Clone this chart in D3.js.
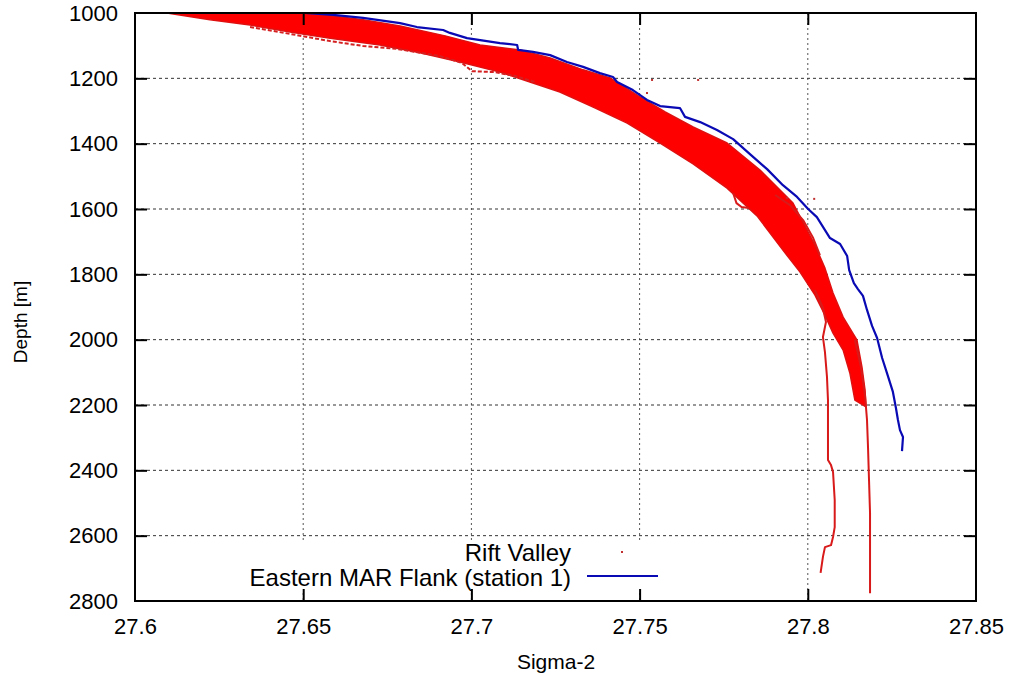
<!DOCTYPE html>
<html>
<head>
<meta charset="utf-8">
<script src="https://cdn.jsdelivr.net/npm/d3@7"></script>
<style>
  body { margin: 0; background: #fff; }
  svg text { font-family: "Liberation Sans", Arial, Helvetica, sans-serif; fill: #000; }
</style>
</head>
<body>
<svg id="chart" width="1011" height="676"></svg>
<script>
// Axis ticks
const xTicks = [27.6, 27.65, 27.7, 27.75, 27.8, 27.85];
const xTickLabels = ["27.6", "27.65", "27.7", "27.75", "27.8", "27.85"];
const yTicks = [1000, 1200, 1400, 1600, 1800, 2000, 2200, 2400, 2600, 2800];
const yTickLabels = ["1000", "1200", "1400", "1600", "1800", "2000", "2200", "2400", "2600", "2800"];

// Eastern MAR Flank (station 1): [sigma-2, depth]
const flankProfile = [
  [27.6505, 1000], [27.6589, 1006], [27.6678, 1015], [27.6788, 1031], [27.6838, 1043],
  [27.6916, 1052], [27.6936, 1061], [27.6987, 1077], [27.7085, 1092], [27.7136, 1098],
  [27.7139, 1113], [27.7183, 1119], [27.7234, 1129], [27.7284, 1150], [27.7332, 1165],
  [27.7382, 1184], [27.7421, 1196], [27.7433, 1211], [27.7480, 1236], [27.7522, 1266],
  [27.7561, 1285], [27.7620, 1291], [27.7635, 1318], [27.7680, 1334], [27.7730, 1358],
  [27.7778, 1386], [27.7828, 1432], [27.7879, 1478], [27.7926, 1527], [27.7968, 1563],
  [27.8001, 1600], [27.8027, 1625], [27.8066, 1689], [27.8096, 1707], [27.8117, 1744],
  [27.8123, 1787], [27.8137, 1827], [27.8149, 1845], [27.8164, 1866], [27.8176, 1909],
  [27.8191, 1958], [27.8206, 1995], [27.8221, 2056], [27.8238, 2111], [27.8253, 2160],
  [27.8262, 2209], [27.8268, 2246], [27.8274, 2277], [27.8283, 2298], [27.8280, 2341]
];

// Rift Valley casts: envelope of the dense bundle of profiles
const riftUpper = [
  [27.6095, 1000], [27.6505, 1000], [27.6589, 1009], [27.6678, 1021], [27.6788, 1040],
  [27.6922, 1070], [27.7026, 1098], [27.7145, 1113], [27.7234, 1138], [27.7332, 1174],
  [27.7412, 1199], [27.7501, 1257], [27.7576, 1303], [27.7659, 1349], [27.7760, 1398],
  [27.7858, 1481], [27.7956, 1582], [27.7990, 1649], [27.8021, 1710], [27.8051, 1781],
  [27.8075, 1857], [27.8105, 1931], [27.8146, 2001], [27.8161, 2084], [27.8170, 2154],
  [27.8173, 2206]
];
const riftLower = [
  [27.8140, 2185], [27.8125, 2102], [27.8105, 2032], [27.8075, 1980], [27.8051, 1925],
  [27.8021, 1863], [27.7977, 1793], [27.7926, 1726], [27.7849, 1621], [27.7760, 1536],
  [27.7659, 1462], [27.7561, 1398], [27.7463, 1337], [27.7362, 1288], [27.7263, 1242],
  [27.7174, 1211], [27.7085, 1181], [27.6966, 1150], [27.6847, 1122], [27.6728, 1098],
  [27.6580, 1077], [27.6461, 1058], [27.6342, 1037], [27.6223, 1021], [27.6095, 1000]
];

// Individual Rift Valley casts that leave the bundle
const riftDeepCast = [
  [27.8140, 2001], [27.8158, 2084], [27.8170, 2169], [27.8176, 2246], [27.8179, 2329],
  [27.8182, 2430], [27.8185, 2531], [27.8185, 2675], [27.8185, 2776]
];
const riftSecondCast = [
  [27.8021, 1848], [27.8045, 1903], [27.8054, 1946], [27.8045, 1992], [27.8051, 2038],
  [27.8057, 2114], [27.8060, 2185], [27.8060, 2277], [27.8060, 2368], [27.8069, 2384],
  [27.8075, 2405], [27.8080, 2491], [27.8080, 2574], [27.8075, 2604], [27.8069, 2629],
  [27.8051, 2635], [27.8045, 2665], [27.8038, 2714]
];
const riftShallowCast = [
  [27.6342, 1043], [27.6461, 1064], [27.6580, 1086], [27.6678, 1101], [27.6779, 1110],
  [27.6907, 1132], [27.6972, 1153], [27.7002, 1178], [27.7070, 1181], [27.7130, 1193],
  [27.7189, 1211]
];
const riftEdgeCast = [
  [27.7903, 1557], [27.7947, 1588], [27.7986, 1634], [27.8016, 1689], [27.8036, 1741]
];
const riftNotchCast = [
  [27.7778, 1551], [27.7788, 1582], [27.7803, 1594], [27.7825, 1597]
];
const riftStrayPoints = [
  [27.7537, 1205], [27.7674, 1205], [27.7522, 1245], [27.7938, 1566], [27.8019, 1569]
];

const svg = d3.select("#chart");
const plotLeft = 135, plotRight = 976, plotTop = 13, plotBottom = 601;

const x = d3.scaleLinear().domain([27.6, 27.85]).range([plotLeft, plotRight]);
const y = d3.scaleLinear().domain([1000, 2800]).range([plotTop, plotBottom]);

svg.append("defs").append("clipPath").attr("id", "plot-clip")
  .append("rect").attr("x", plotLeft).attr("y", plotTop)
  .attr("width", plotRight - plotLeft).attr("height", plotBottom - plotTop);

// Grid
const grid = svg.append("g");
grid.selectAll("line.gx").data(xTicks.slice(1, -1)).join("line")
  .attr("x1", d => x(d)).attr("x2", d => x(d))
  .attr("y1", plotTop).attr("y2", plotBottom)
  .attr("stroke", "#555").attr("stroke-width", 1).attr("stroke-dasharray", "2,3");
grid.selectAll("line.gy").data(yTicks.slice(1, -1)).join("line")
  .attr("x1", plotLeft).attr("x2", plotRight)
  .attr("y1", d => y(d)).attr("y2", d => y(d))
  .attr("stroke", "#333").attr("stroke-width", 1).attr("stroke-dasharray", "3,3");

// Legend background (opaque key box)
svg.append("rect").attr("x", 238).attr("y", 541).attr("width", 430).attr("height", 50)
  .attr("fill", "#fff");

const plot = svg.append("g").attr("clip-path", "url(#plot-clip)");
const line = d3.line().x(d => x(d[0])).y(d => y(d[1]));

// Rift Valley bundle
plot.append("path")
  .attr("d", line(riftUpper.concat(riftLower)) + "Z")
  .attr("fill", "#ff0000").attr("stroke", "#e01010").attr("stroke-width", 1.5)
  .attr("stroke-linejoin", "round");

plot.append("path").attr("d", line(riftShallowCast))
  .attr("fill", "none").attr("stroke", "#d42020").attr("stroke-width", 2)
  .attr("stroke-dasharray", "4,2");
[riftDeepCast, riftSecondCast, riftEdgeCast, riftNotchCast].forEach(c => {
  plot.append("path").attr("d", line(c))
    .attr("fill", "none").attr("stroke", "#d81a1a").attr("stroke-width", 2)
    .attr("stroke-linejoin", "round");
});
plot.selectAll("rect.stray").data(riftStrayPoints).join("rect")
  .attr("x", d => x(d[0]) - 1).attr("y", d => y(d[1]) - 1)
  .attr("width", 2).attr("height", 2).attr("fill", "#c03030");

// Eastern MAR Flank
plot.append("path").attr("d", line(flankProfile))
  .attr("fill", "none").attr("stroke", "#0a0ab4").attr("stroke-width", 2.2)
  .attr("stroke-linejoin", "round");

// Axes (ticks point inward on all four sides)
const fs = "22px";
const axB = svg.append("g").attr("transform", `translate(0,${plotBottom})`)
  .call(d3.axisBottom(x).tickValues(xTicks).tickFormat((d, i) => xTickLabels[i])
    .tickSizeInner(-12).tickSizeOuter(0).tickPadding(17));
const axL = svg.append("g").attr("transform", `translate(${plotLeft},0)`)
  .call(d3.axisLeft(y).tickValues(yTicks).tickFormat((d, i) => yTickLabels[i])
    .tickSizeInner(-12).tickSizeOuter(0).tickPadding(17));
const axT = svg.append("g").attr("transform", `translate(0,${plotTop})`)
  .call(d3.axisTop(x).tickValues(xTicks).tickFormat("").tickSizeInner(-12).tickSizeOuter(0));
const axR = svg.append("g").attr("transform", `translate(${plotRight},0)`)
  .call(d3.axisRight(y).tickValues(yTicks).tickFormat("").tickSizeInner(-12).tickSizeOuter(0));
[axB, axL, axT, axR].forEach(a => {
  a.select(".domain").remove();
  a.selectAll(".tick line").attr("stroke", "#000").attr("stroke-width", 2);
  a.selectAll("text").attr("font-size", fs).attr("font-family", null).attr("fill", "#000");
});
[axB, axT].forEach(a => a.selectAll(".tick")
  .filter((d, i) => i === 0 || i === xTicks.length - 1).select("line").remove());
[axL, axR].forEach(a => a.selectAll(".tick")
  .filter((d, i) => i === 0 || i === yTicks.length - 1).select("line").remove());

// Frame
svg.append("rect").attr("x", plotLeft).attr("y", plotTop)
  .attr("width", plotRight - plotLeft).attr("height", plotBottom - plotTop)
  .attr("fill", "none").attr("stroke", "#000").attr("stroke-width", 2);

// Axis titles
svg.append("text").attr("x", 556).attr("y", 669).attr("text-anchor", "middle")
  .attr("font-size", "21px").text("Sigma-2");
svg.append("text").attr("transform", "translate(27,322) rotate(-90)")
  .attr("text-anchor", "middle").attr("font-size", "19px").text("Depth [m]");

// Key
const key = svg.append("g");
key.append("text").attr("x", 571).attr("y", 561).attr("text-anchor", "end")
  .attr("font-size", "24px").text("Rift Valley");
key.append("rect").attr("x", 621).attr("y", 551).attr("width", 2).attr("height", 2)
  .attr("fill", "#c03030");
key.append("text").attr("x", 571).attr("y", 586).attr("text-anchor", "end")
  .attr("font-size", "24px").text("Eastern MAR Flank (station 1)");
key.append("line").attr("x1", 587).attr("x2", 658).attr("y1", 576).attr("y2", 576)
  .attr("stroke", "#0a0ab4").attr("stroke-width", 2);
</script>
</body>
</html>
